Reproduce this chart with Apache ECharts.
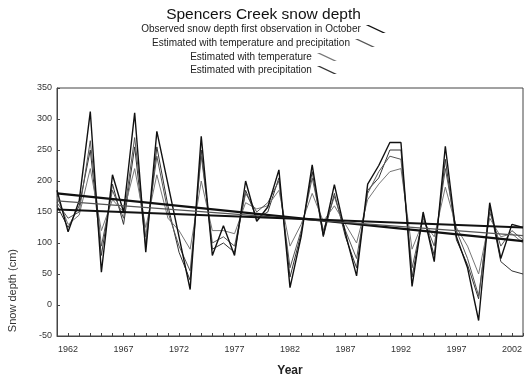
<!DOCTYPE html>
<html>
<head>
<meta charset="utf-8">
<script src="https://cdn.jsdelivr.net/npm/echarts@6/dist/echarts.min.js"></script>
<style>html,body{margin:0;padding:0;background:#fff}#c{width:527px;height:382px}</style>
</head>
<body>
<div id="c"></div>
<script>
var years = [];
for (var y = 1961; y <= 2003; y++) years.push(String(y));

var observed = [185,118,168,312,53,210,150,310,85,280,195,110,25,272,80,128,80,200,135,158,218,28,110,226,112,194,115,47,195,225,262,262,30,150,70,256,110,60,-25,165,75,130,125];
var estTP    = [165,140,150,265,95,185,140,270,110,240,150,95,55,240,100,110,95,180,150,165,200,60,120,205,120,175,120,75,180,215,240,235,60,140,95,220,120,75,15,150,95,120,105];
var estT     = [175,130,145,220,120,170,150,220,125,210,140,120,90,200,120,120,115,165,155,160,185,95,130,180,135,160,130,100,170,195,215,220,90,135,110,190,125,95,50,140,110,115,100];
var estP     = [160,125,160,250,80,195,130,255,95,255,160,85,40,250,90,100,85,185,140,150,205,45,115,215,110,180,110,60,185,205,250,250,45,145,80,235,105,65,10,160,70,55,50];

var trendA = [180, 103];
var trendB = [168, 112];
var trendC = [154, 125];

var yTicks = [-50, 0, 50, 100, 150, 200, 250, 300, 350];

var names = [
  'Observed snow depth first observation in October',
  'Estimated with temperature and precipitation',
  'Estimated with temperature',
  'Estimated with precipitation'
];

function trend(v) {
  return [[years[0], v[0]], [years[years.length - 1], v[1]]];
}

var chart = echarts.init(document.getElementById('c'));
var legendBase = {
  left: 'center', orient: 'horizontal', align: 'right', padding: 0,
  itemWidth: 20, itemHeight: 8,
  icon: 'path://M0,0L3,0L20,8L17,8Z',
  textStyle: { fontFamily: 'Liberation Sans', fontSize: 10, color: '#222' }
};
chart.setOption({
  animation: false,
  backgroundColor: '#fff',
  title: {
    text: 'Spencers Creek snow depth', left: 'center', top: 2,
    textStyle: { fontFamily: 'Liberation Sans', fontSize: 15.5, fontWeight: 'normal', color: '#111' }
  },
  legend: [
    Object.assign({}, legendBase, { top: 24, data: [names[0]] }),
    Object.assign({}, legendBase, { top: 38, data: [names[1]] }),
    Object.assign({}, legendBase, { top: 52, data: [names[2]] }),
    Object.assign({}, legendBase, { top: 65, data: [names[3]] })
  ],
  graphic: [{
    type: 'text', left: 7, top: 249,
    rotation: Math.PI / 2,
    style: { text: 'Snow depth (cm)', fontFamily: 'Liberation Sans', fontSize: 11, fill: '#333' }
  }],
  grid: { left: 57, right: 4, top: 88, bottom: 45, show: true, borderColor: '#444', borderWidth: 1 },
  xAxis: {
    type: 'category', data: years, boundaryGap: false,
    name: 'Year', nameLocation: 'middle', nameGap: 29,
    nameTextStyle: { fontFamily: 'Liberation Sans', fontSize: 12, fontWeight: 'bold', color: '#222' },
    axisLine: { onZero: false, lineStyle: { color: '#444' } },
    axisTick: { inside: true, length: 3, interval: 0, lineStyle: { color: '#444' } },
    axisLabel: {
      interval: function (i, v) { return (Number(v) - 1962) % 5 === 0; },
      fontFamily: 'Liberation Sans', fontSize: 9, color: '#333', margin: 9
    },
    splitLine: { show: false }
  },
  yAxis: {
    type: 'value', min: -50, max: 350, interval: 50,
    axisLine: { show: true, lineStyle: { color: '#444' } },
    axisTick: { show: true, inside: true, length: 3, lineStyle: { color: '#444' } },
    axisLabel: {
      fontFamily: 'Liberation Sans', fontSize: 9, color: '#333', margin: 5,
      formatter: function (v) { return yTicks.indexOf(v) >= 0 ? String(v) : ''; }
    },
    splitLine: { show: false }
  },
  series: [
    { name: names[3], type: 'line', data: estP, symbol: 'none', lineStyle: { color: '#333', width: 1 }, itemStyle: { color: '#333' } },
    { name: names[2], type: 'line', data: estT, symbol: 'none', lineStyle: { color: '#777', width: 1 }, itemStyle: { color: '#777' } },
    { name: names[1], type: 'line', data: estTP, symbol: 'none', lineStyle: { color: '#555', width: 1 }, itemStyle: { color: '#555' } },
    { name: names[0], type: 'line', data: observed, symbol: 'none', lineStyle: { color: '#111', width: 1.4 }, itemStyle: { color: '#111' } },
    { type: 'line', data: trend(trendA), symbol: 'none', lineStyle: { color: '#111', width: 2.2 }, silent: true },
    { type: 'line', data: trend(trendB), symbol: 'none', lineStyle: { color: '#555', width: 1.2 }, silent: true },
    { type: 'line', data: trend(trendC), symbol: 'none', lineStyle: { color: '#111', width: 2.2 }, silent: true }
  ]
});
</script>
</body>
</html>
